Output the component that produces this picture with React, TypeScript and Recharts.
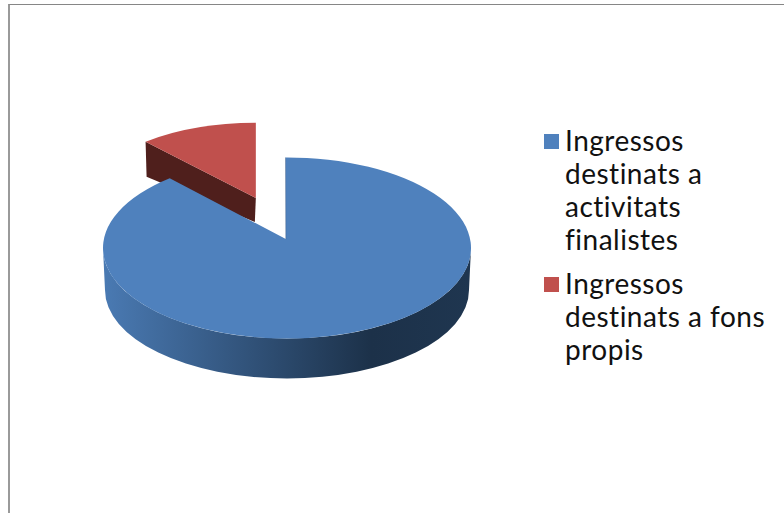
import { Legend, Pie, PieChart } from "recharts";

const categories = ["Ingressos destinats a activitats finalistes", "Ingressos destinats a fons propis"];
const values = [89, 11];
const colors = ["#4f81bd", "#c0504d"];
const legendLines = [
  ["Ingressos", "destinats a", "activitats", "finalistes"],
  ["Ingressos", "destinats a fons", "propis"],
];

// drawn back to front: the exploded slice first, the big one covers its wall
const slices = [
  { name: categories[1], value: values[1], fill: colors[1] },
  { name: categories[0], value: values[0], fill: colors[0] },
];
const total = values[0] + values[1];
const firstAngle = 90 + (values[1] / total) * 360;

const SQUASH = 0.492;
const DEPTH = 42;

function PieSlice3D(props: any) {
  const { cx, cy, outerRadius, startAngle, endAngle, fill } = props;
  const exploded = fill === colors[1];
  const from = ((90 - startAngle) * Math.PI) / 180;
  const to = ((90 - endAngle) * Math.PI) / 180;
  const mid = (from + to) / 2;

  if (exploded) {
    // pulled out, and a bit smaller because it sits further back
    const rx = outerRadius * 0.94;
    const ry = outerRadius * 0.449;
    const x0 = cx + outerRadius * 0.5 * Math.sin(mid);
    const y0 = cy - outerRadius * SQUASH * 0.5 * Math.cos(mid);
    const ax = x0;
    const ay = y0 - 7.5;
    const sx = x0 + rx * Math.sin(from);
    const sy = y0 - ry * Math.cos(from);
    const ex = x0 + rx * Math.sin(to);
    const ey = y0 - ry * Math.cos(to);
    return (
      <g>
        <path d={`M${sx},${sy} L${ax},${ay} L${ax - 1},${ay + 24} L${sx + 1},${sy + 35} Z`} fill="#4f1f1c" />
        <path d={`M${ax},${ay} L${sx},${sy} A${rx},${ry} 0 0 1 ${ex},${ey} Z`} fill={fill} />
      </g>
    );
  }

  const rx = outerRadius;
  const ry = outerRadius * SQUASH;
  const ax = cx - 1.2;
  const ay = cy - 9;
  const sx = cx + rx * Math.sin(from) - 1.5;
  const sy = cy - ry * Math.cos(from);
  const ex = cx + rx * Math.sin(to);
  const ey = cy - ry * Math.cos(to);
  const rx2 = rx - 2;
  const ry2 = ry - 2;
  return (
    <g>
      <path
        d={`M${cx - rx},${cy} A${rx},${ry} 0 0 0 ${cx + rx},${cy} L${cx + rx2},${cy + DEPTH} A${rx2},${ry2} 0 0 1 ${cx - rx2},${cy + DEPTH} Z`}
        fill="url(#wallBlue)"
      />
      <path d={`M${ax},${ay} L${sx},${sy} A${rx},${ry} 0 1 1 ${ex},${ey} Z`} fill={fill} />
      <path d={`M${sx},${sy} L${ax},${ay}`} stroke="#2c4a70" strokeWidth={0.6} strokeOpacity={0.6} fill="none" />
    </g>
  );
}

function ChartLegend() {
  return (
    <div
      style={{
        fontFamily: "Lato, sans-serif",
        fontSize: 28,
        fontWeight: 400,
        letterSpacing: 0.5,
        lineHeight: "33px",
        color: "#111",
      }}
    >
      {legendLines.map((lines, i) => (
        <div key={i} style={{ position: "relative", paddingLeft: 21, marginBottom: 11, whiteSpace: "nowrap" }}>
          <span
            style={{ position: "absolute", left: 0, top: 10, width: 15, height: 15, background: colors[i] }}
          />
          {lines.map((line) => (
            <div key={line}>{line}</div>
          ))}
        </div>
      ))}
    </div>
  );
}

export default function App() {
  return (
    <div style={{ position: "absolute", left: 0, top: 0, width: 784, height: 513, background: "#fff", overflow: "hidden" }}>
      <div
        style={{
          position: "absolute",
          left: 8,
          top: 4,
          width: 776,
          height: 509,
          boxSizing: "border-box",
          borderTop: "1px solid #868686",
          borderLeft: "2px solid #9a9a9a",
        }}
      />
      <PieChart width={784} height={513} margin={{ top: 0, right: 0, bottom: 0, left: 0 }}>
        <defs>
          <linearGradient id="wallBlue" x1="0" y1="0" x2="1" y2="0">
            <stop offset="0" stopColor="#4a7ab3" />
            <stop offset="0.73" stopColor="#1c3149" />
            <stop offset="1" stopColor="#1f3650" />
          </linearGradient>
        </defs>
        <Pie
          data={slices}
          dataKey="value"
          nameKey="name"
          cx={287}
          cy={248}
          outerRadius={184}
          startAngle={firstAngle}
          endAngle={firstAngle - 360}
          shape={PieSlice3D}
          isAnimationActive={false}
        />
        <Legend
          content={ChartLegend}
          layout="vertical"
          wrapperStyle={{ position: "absolute", left: 544, top: 124, width: 240 }}
        />
      </PieChart>
    </div>
  );
}
